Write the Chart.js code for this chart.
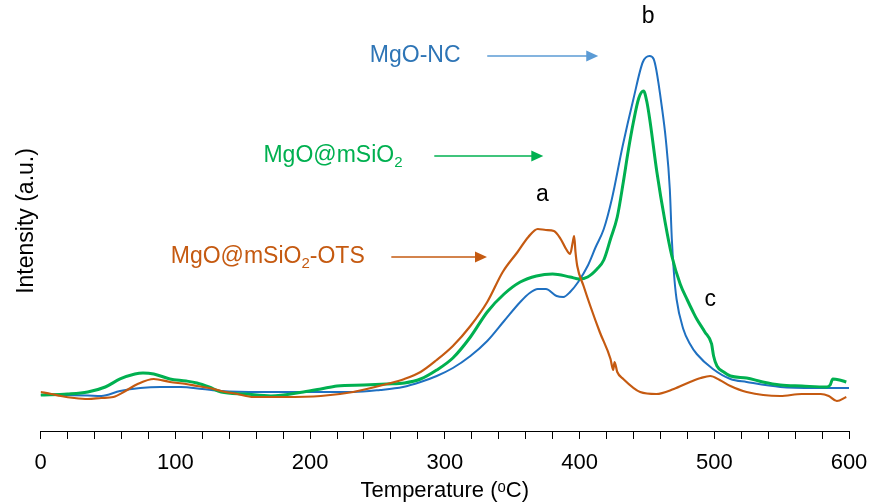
<!DOCTYPE html>
<html>
<head>
<meta charset="utf-8">
<script src="https://cdn.jsdelivr.net/npm/chart.js@4.4.1/dist/chart.umd.min.js"></script>
<style>
  html, body { margin: 0; padding: 0; background: #fff; }
  #wrap { width: 870px; height: 503px; }
</style>
</head>
<body>
<div id="wrap"><canvas id="tpd"></canvas></div>
<script>
// TPD profiles (temperature in C, signal in arbitrary units)

const ncTemp = [0, 15, 35, 45, 59, 74, 89, 104, 120, 134, 163, 195, 232, 252, 269, 282, 294, 306, 319, 331.5, 344, 356, 363, 369, 375, 383, 388, 393, 399, 406, 412, 418, 424, 432, 440, 447, 452, 455, 457, 461, 464, 467, 468.5, 470, 472, 477, 482, 487, 499, 512, 524, 549, 575, 600];
const ncSignal = [37, 37, 36.5, 36, 41, 44, 45, 45, 43, 41, 40, 40, 40, 42, 45, 50, 56, 64, 76, 91, 111, 130, 139, 143, 143, 136, 135, 140, 150, 166, 185, 203, 233, 286, 333, 370, 376, 373, 362, 326, 293, 243, 193, 160, 133, 103, 88, 78, 63, 53, 50, 45, 44, 44];

const siTemp = [0, 20, 35, 48, 59, 70, 76, 84, 96, 108, 116, 125, 134, 152, 171, 195, 208, 220, 240, 257, 270, 282, 294, 306, 319, 331.5, 344, 356, 368, 380, 393, 400, 406, 413, 418, 423, 428, 432.5, 436, 440, 444, 447.5, 450, 452.4, 457.4, 463.5, 468.5, 474.7, 480, 484.3, 487, 493, 498, 499.5, 502, 507, 512, 524, 536, 549, 565, 583.5, 586, 588, 593, 598];
const siSignal = [37, 38, 40, 45, 53, 58, 59, 58, 53, 51, 49, 45, 40, 38, 36, 40, 43, 46, 47, 48, 49, 53, 62, 74, 95, 120, 138, 150, 156, 158, 155, 153, 155, 163, 172, 193, 215, 250, 280, 310, 334, 341, 330, 310, 260, 210, 176, 148, 132, 120, 113, 100, 88, 76, 66, 60, 56, 54, 50, 47, 46, 45, 47, 53, 52, 50];

const otsTemp = [0, 8, 15, 25, 35, 45, 54, 63, 72, 84, 96, 108, 116, 125, 134, 146, 158, 180, 208, 232, 257, 270, 282, 294, 306, 319, 331.5, 343, 354, 362, 369, 375, 381, 386, 390, 393, 395, 396, 397, 398.3, 403, 408, 415, 423, 425, 426, 428, 432.5, 445, 457, 470, 482, 490, 497, 504, 512, 524, 549, 565, 579, 585, 591, 598];
const otsSignal = [40, 38, 36, 34, 33, 34, 35, 41, 48, 53, 50, 48, 46, 44, 41, 38, 35, 35, 36, 40, 48, 53, 60, 72, 86, 106, 130, 160, 180, 195, 203, 202, 201, 193, 183, 178, 190, 196, 180, 166, 146, 126, 100, 73, 62, 70, 60, 53, 40, 38, 43, 50, 54, 56, 52, 46, 40, 36, 38, 38, 36, 31, 35];

// text labels and arrows placed in data units
const noteText = ['a', 'b', 'c'];
const noteTemp = [372.5, 451, 497];
const noteSignal = [237, 415, 132];

const seriesNames = ['MgO-NC', 'MgO@mSiO2', 'MgO@mSiO2-OTS'];
const seriesTagTemp = [278, 217, 168.6];
const seriesTagSignal = [376, 276, 175];
const arrowFrom = [331.5, 292.2, 260.3];
const arrowTo = [413.9, 373.1, 331.3];

const FONT = "'Liberation Sans', Arial, sans-serif";

function toPoints(xs, ys) {
  return xs.map((t, i) => ({ x: t, y: ys[i] }));
}

// split "MgO@mSiO2-OTS" into normal / subscript pieces
function richParts(name) {
  return name.split(/(?<=SiO)(2)/).filter(s => s.length).map(s => ({ t: s, sub: s === '2' }));
}

function drawRich(ctx, name, cx, cy, color, size) {
  const parts = richParts(name);
  const small = Math.round(size * 0.65);
  let w = 0;
  parts.forEach(p => {
    ctx.font = `${p.sub ? small : size}px ${FONT}`;
    w += ctx.measureText(p.t).width;
  });
  let xx = cx - w / 2;
  ctx.fillStyle = color;
  ctx.textAlign = 'left';
  ctx.textBaseline = 'middle';
  parts.forEach(p => {
    ctx.font = `${p.sub ? small : size}px ${FONT}`;
    ctx.fillText(p.t, xx, p.sub ? cy + size * 0.3 : cy);
    xx += ctx.measureText(p.t).width;
  });
}

function drawArrow(ctx, x1, x2, yy, color) {
  const head = 12;
  ctx.strokeStyle = color;
  ctx.lineWidth = 1.5;
  ctx.beginPath();
  ctx.moveTo(x1, yy);
  ctx.lineTo(x2 - head + 1, yy);
  ctx.stroke();
  ctx.fillStyle = color;
  ctx.beginPath();
  ctx.moveTo(x2, yy);
  ctx.lineTo(x2 - head, yy - 5.5);
  ctx.lineTo(x2 - head, yy + 5.5);
  ctx.closePath();
  ctx.fill();
}

const tagColors = ['#2e75b6', '#00b050', '#c55a11'];
const arrowColors = ['#5b9bd5', '#00b050', '#c55a11'];

const notesPlugin = {
  id: 'notes',
  afterDatasetsDraw(chart) {
    const { ctx, scales: { x, y } } = chart;
    ctx.save();
    seriesNames.forEach((name, i) => {
      drawRich(ctx, name, x.getPixelForValue(seriesTagTemp[i]), y.getPixelForValue(seriesTagSignal[i]), tagColors[i], 23);
      drawArrow(ctx, x.getPixelForValue(arrowFrom[i]), x.getPixelForValue(arrowTo[i]), y.getPixelForValue(seriesTagSignal[i]), arrowColors[i]);
    });
    ctx.fillStyle = '#000';
    ctx.font = `23px ${FONT}`;
    ctx.textAlign = 'center';
    ctx.textBaseline = 'middle';
    noteText.forEach((t, i) => {
      ctx.fillText(t, x.getPixelForValue(noteTemp[i]), y.getPixelForValue(noteSignal[i]));
    });
    ctx.restore();
  }
};

const lineStyle = {
  fill: false,
  pointRadius: 0,
  cubicInterpolationMode: 'monotone',
};

new Chart(document.getElementById('tpd'), {
  type: 'line',
  data: {
    datasets: [
      { ...lineStyle, label: 'MgO@mSiO2-OTS', data: toPoints(otsTemp, otsSignal), borderColor: '#c55a11', borderWidth: 2.2 },
      { ...lineStyle, label: 'MgO@mSiO2', data: toPoints(siTemp, siSignal), borderColor: '#00b050', borderWidth: 3 },
      { ...lineStyle, label: 'MgO-NC', data: toPoints(ncTemp, ncSignal), borderColor: '#1f70c1', borderWidth: 2 },
    ],
  },
  options: {
    responsive: true,
    maintainAspectRatio: false,
    animation: false,
    devicePixelRatio: 1,
    layout: { padding: { left: 0, right: 21, top: 10, bottom: 0 } },
    plugins: {
      legend: { display: false },
      tooltip: { enabled: false },
    },
    scales: {
      x: {
        type: 'linear',
        min: 0,
        max: 600,
        ticks: {
          stepSize: 20,
          autoSkip: false,
          maxRotation: 0,
          padding: 2,
          color: '#000',
          font: { family: FONT, size: 22, lineHeight: 2 },
          callback: (v) => (v % 100 === 0 ? v : ''),
        },
        grid: {
          drawOnChartArea: false,
          drawTicks: true,
          tickLength: 7,
          color: '#000',
        },
        border: { display: true, color: '#000', width: 1 },
        title: {
          display: true,
          text: 'Temperature (ᵒC)',
          color: '#000',
          font: { family: FONT, size: 22, lineHeight: 0.364 },
          padding: { top: 0, bottom: 8 },
        },
      },
      y: {
        min: 0,
        max: 422,
        ticks: { display: false },
        grid: { display: false, drawTicks: false },
        border: { display: false },
        title: {
          display: true,
          text: 'Intensity (a.u.)',
          color: '#000',
          font: { family: FONT, size: 23 },
          padding: { top: 13, bottom: 0 },
        },
      },
    },
  },
  plugins: [notesPlugin],
});
</script>
</body>
</html>
